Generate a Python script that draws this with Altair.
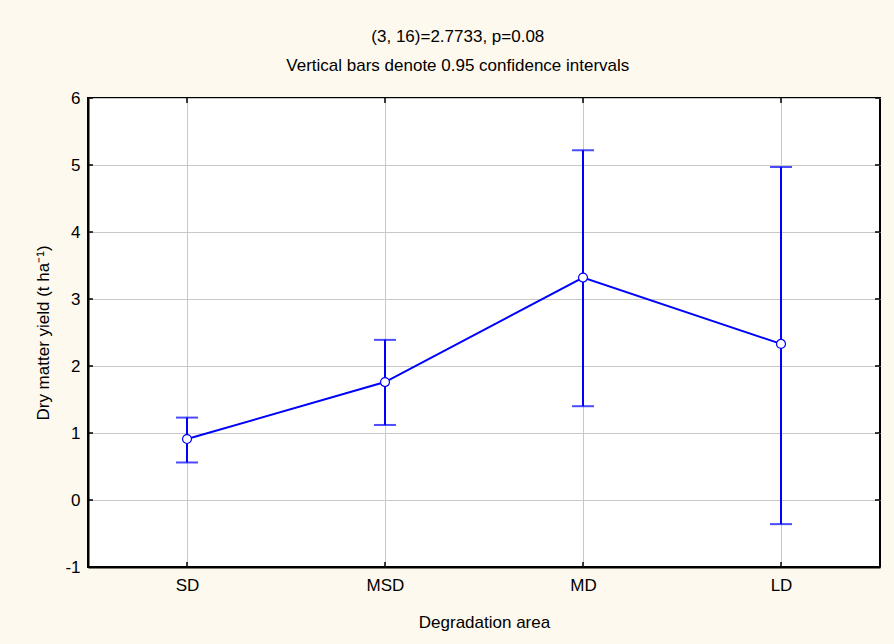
import altair as alt
import pandas as pd

# Mean dry matter yield by degradation area, with 95% confidence limits
areas = ["SD", "MSD", "MD", "LD"]
means = [0.91, 1.76, 3.32, 2.33]
lower = [0.56, 1.12, 1.40, -0.36]
upper = [1.23, 2.39, 5.22, 4.97]
y_ticks = [-1, 0, 1, 2, 3, 4, 5, 6]

df = pd.DataFrame({"area": areas, "mean": means, "lower": lower, "upper": upper})
ticks_df = pd.DataFrame({"v": y_ticks})

BLUE = "#0000FF"
FONT = "Liberation Sans"
W, H = 792, 469
TICK = 5

x_scale = alt.Scale(type="point", padding=0.5, domain=areas)
y_scale = alt.Scale(domain=[-1, 6], nice=False, zero=False)

x_enc = alt.X(
    "area:N",
    sort=areas,
    scale=x_scale,
    axis=alt.Axis(
        title="Degradation area",
        labelAngle=0,
        labelPadding=10,
        labelFontSize=17,
        tickSize=0,
        titlePadding=21,
    ),
)

base = alt.Chart(df).encode(x=x_enc)

whiskers = base.mark_rule(color=BLUE, strokeWidth=2).encode(
    y=alt.Y(
        "lower:Q",
        scale=y_scale,
        axis=alt.Axis(
            title="Dry matter yield (t ha⁻¹)",
            values=y_ticks,
            labelExpr="'' + datum.value",
            tickSize=0,
            labelPadding=8,
            labelFontSize=17,
            titlePadding=12,
        ),
    ),
    y2="upper:Q",
)
cap_lo = base.mark_tick(color=BLUE, thickness=2, size=22, orient="horizontal").encode(
    y=alt.Y("lower:Q", scale=y_scale)
)
cap_hi = base.mark_tick(color=BLUE, thickness=2, size=22, orient="horizontal").encode(
    y=alt.Y("upper:Q", scale=y_scale)
)
line = base.mark_line(color=BLUE, strokeWidth=2).encode(y=alt.Y("mean:Q", scale=y_scale))
points = base.mark_point(
    shape="circle", filled=True, fill="white", stroke=BLUE, strokeWidth=1.2, size=80, opacity=1
).encode(y=alt.Y("mean:Q", scale=y_scale))

# inward tick marks on all four sides of the frame
tick_style = dict(color="black", strokeWidth=1.5)
left_ticks = alt.Chart(ticks_df).mark_rule(**tick_style).encode(
    y=alt.Y("v:Q", scale=y_scale), x=alt.value(0), x2=alt.value(TICK)
)
right_ticks = alt.Chart(ticks_df).mark_rule(**tick_style).encode(
    y=alt.Y("v:Q", scale=y_scale), x=alt.value(W - TICK), x2=alt.value(W)
)
bottom_ticks = base.mark_rule(**tick_style).encode(y=alt.value(H - TICK), y2=alt.value(H))
top_ticks = base.mark_rule(**tick_style).encode(y=alt.value(0), y2=alt.value(TICK))

chart = (
    alt.layer(
        whiskers, cap_lo, cap_hi, line, points,
        left_ticks, right_ticks, bottom_ticks, top_ticks,
    )
    .properties(
        width=W,
        height=H,
        background="#FEF9EE",
        padding={"left": 88, "top": 98, "right": 14, "bottom": 77},
        autosize=alt.AutoSizeParams(type="none"),
        title=alt.TitleParams(
            text="(3, 16)=2.7733, p=0.08",
            subtitle="Vertical bars denote 0.95 confidence intervals",
            anchor="middle",
            frame="bounds",
            font=FONT,
            fontSize=17,
            fontWeight="normal",
            color="black",
            subtitleFont=FONT,
            subtitleFontSize=17,
            subtitleColor="black",
            subtitlePadding=12,
            offset=14,
        ),
    )
    .configure_view(fill="white", stroke="black", strokeWidth=2)
    .configure_axis(
        labelFont=FONT,
        titleFont=FONT,
        titleFontSize=17,
        titleFontWeight="normal",
        labelColor="black",
        titleColor="black",
        domainColor="black",
        domainWidth=2,
        gridColor="#C8C8C8",
        gridWidth=1,
        grid=True,
    )
)

chart.save("out.html", embed_options={"renderer": "svg", "actions": False})
